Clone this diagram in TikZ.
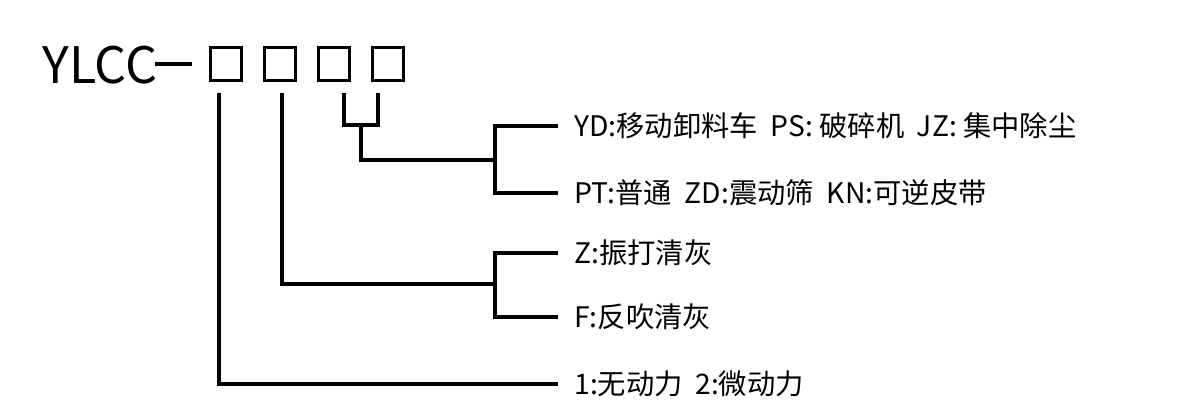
\documentclass[tikz,border=0pt]{standalone}
\usepackage{fontspec}
\setmainfont{Noto Sans CJK SC}
\usetikzlibrary{positioning,calc}

\tikzset{
  codebox/.style={draw, line width=1.7pt, minimum width=0.62cm, minimum height=0.66cm, inner sep=0pt},
  conn/.style={line width=2.2pt},
  optlabel/.style={inner sep=0pt, font=\fontsize{16.1}{18}\selectfont},
}

\begin{document}
\begin{tikzpicture}[x=0.02cm, y=-0.02cm, node distance=0.4cm]
    \useasboundingbox (0,0) rectangle (1200,414);
    % model prefix and code boxes
    \node[anchor=base west, inner sep=0pt, font=\fontsize{28.6}{32}\selectfont] (ylcc) at (42,83) {YLCC};
    \coordinate (dashend) at (192,64);
    \draw[conn] ([xshift=-0.06cm]ylcc.east |- dashend) -- (dashend);
    \node[codebox] (b1) at (226,64) {};
    \node[codebox, right=of b1] (b2) {};
    \node[codebox, right=of b2] (b3) {};
    \node[codebox, right=of b3] (b4) {};

    % ends of the arms
    \coordinate (ydend) at (558,126);
    \coordinate (ptend) at (558,193);
    \coordinate (zend) at (558,253);
    \coordinate (fend) at (558,317);
    \coordinate (pwend) at (558,384);

    % option texts
    \node[optlabel, right=0.32cm of ydend] (yd) {YD:移动卸料车~~PS: 破碎机~~JZ: 集中除尘};
    \node[optlabel, right=0.32cm of ptend] (pt) {PT:普通~~ZD:震动筛~~KN:可逆皮带};
    \node[optlabel, right=0.32cm of zend] (zz) {Z:振打清灰};
    \node[optlabel, right=0.32cm of fend] (ff) {F:反吹清灰};
    \node[optlabel, right=0.32cm of pwend] (pw) {1:无动力~~2:微动力};

    % connectors
    \coordinate (t1) at (219,93);
    \coordinate (t2) at (282,93);
    \coordinate (t3) at (344,93);
    \coordinate (t4) at (378,93);
    \coordinate (s34) at (361,125);
    \coordinate (j1) at (495,160);
    \coordinate (j2) at (495,284);

    \draw[conn] (t3) |- (s34) -| (t4);
    \draw[conn] (s34) |- (j1);
    \draw[conn] (ydend) -| (j1) |- (ptend);
    \draw[conn] (t2) |- (j2);
    \draw[conn] (zend) -| (j2) |- (fend);
    \draw[conn] (t1) |- (pwend);
\end{tikzpicture}
\end{document}
